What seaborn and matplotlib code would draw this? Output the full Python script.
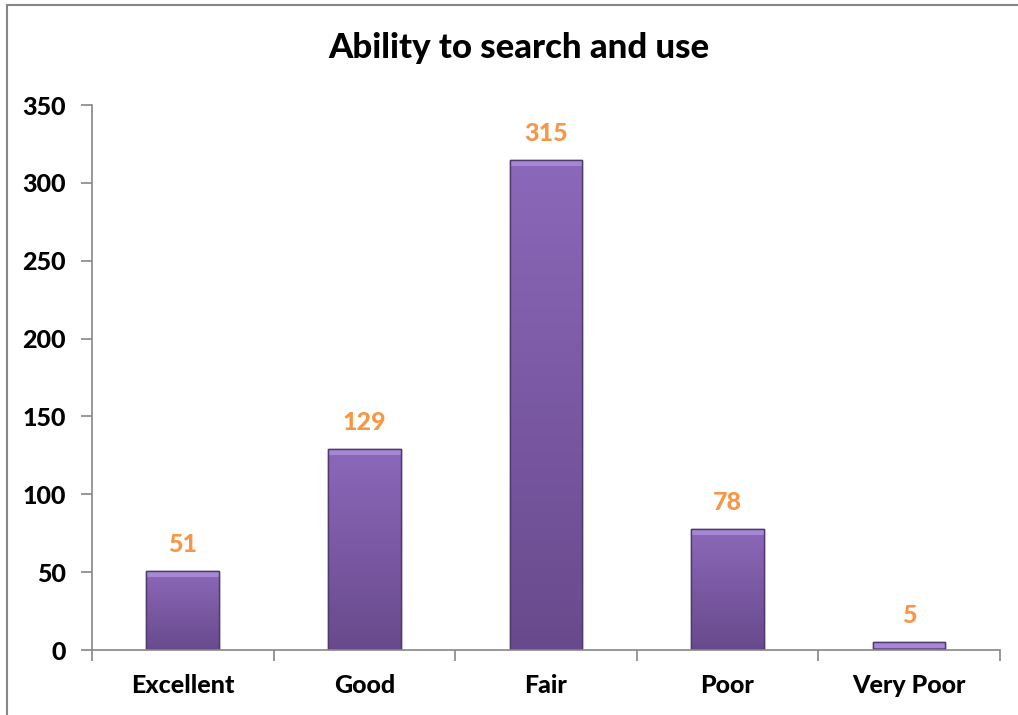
import matplotlib
matplotlib.use("Agg")
import matplotlib.pyplot as plt
from matplotlib.lines import Line2D
from matplotlib.patches import Rectangle
import numpy as np
import pandas as pd
import seaborn as sns

categories = ["Excellent", "Good", "Fair", "Poor", "Very Poor"]
counts = [51, 129, 315, 78, 5]
title = "Ability to search and use"
yticks = [0, 50, 100, 150, 200, 250, 300, 350]

sns.set_theme(style="white")
plt.rcParams["font.family"] = ["Lato", "DejaVu Sans"]
plt.rcParams["text.color"] = "black"

axis_grey = "#868686"
bar_purple = "#7B5BA8"
label_orange = "#F79646"
W = "black"

df = pd.DataFrame({"category": categories, "count": counts})

fig = plt.figure(figsize=(10.18, 7.15), dpi=100)
ax = fig.add_axes([0.0904, 0.0909, 0.8916, 0.7622])

sns.barplot(data=df, x="category", y="count", color=bar_purple,
            width=0.4, saturation=1, ax=ax, edgecolor="#4E3A6B", linewidth=1.0)

# vertical gradient + bevel highlight on each bar
grad = np.linspace(0, 1, 256).reshape(-1, 1)
top_c = np.array([0x8C, 0x68, 0xBA]) / 255
bot_c = np.array([0x68, 0x4A, 0x8C]) / 255
img = (top_c * (1 - grad) + bot_c * grad).reshape(256, 1, 3)
for p in list(ax.patches):
    x0, y0 = p.get_x(), p.get_y()
    w, h = p.get_width(), p.get_height()
    im = ax.imshow(img, extent=[x0, x0 + w, y0, y0 + h], aspect="auto",
                   zorder=p.get_zorder() + 0.1, interpolation="bilinear")
    im.set_clip_path(p)
    bevel = min(h, 350 * 0.011)
    ax.add_patch(Rectangle((x0, y0 + h - bevel), w, bevel, facecolor="#A587D3",
                           edgecolor="none", zorder=p.get_zorder() + 0.2))
    ax.add_patch(Rectangle((x0, y0), w, h, facecolor="none", edgecolor="#4E3A6B",
                           linewidth=1.0, zorder=p.get_zorder() + 0.3))

ax.set_xlim(-0.5, len(categories) - 0.5)
ax.set_ylim(0, 350)
ax.set_yticks(yticks)
ax.set_yticklabels([str(v) for v in yticks], fontsize=18, fontweight=W)
ax.set_xticks(range(len(categories)))
ax.set_xticklabels(categories, fontsize=18, fontweight=W)
ax.set_xticks(np.arange(-0.5, len(categories), 1.0), minor=True)
ax.tick_params(axis="x", which="major", length=0, pad=17, labelcolor="black")
ax.tick_params(axis="x", which="minor", length=8, width=1.2, color=axis_grey, direction="out", bottom=True)
ax.tick_params(axis="y", length=8, width=1.2, color=axis_grey, direction="out", left=True,
               pad=11, labelcolor="black")
ax.set_xlabel("")
ax.set_ylabel("")

for s in ["top", "right"]:
    ax.spines[s].set_visible(False)
for s in ["left", "bottom"]:
    ax.spines[s].set_color(axis_grey)
    ax.spines[s].set_linewidth(1.2)

for i, v in enumerate(counts):
    ax.text(i, v + 17, str(v), ha="center", va="center", fontsize=18,
            fontweight=W, color=label_orange)

fig.text(0.5095, 0.933, title, ha="center", va="center", fontsize=25,
         fontweight=W, color="black")

# chart frame (left and top edges)
fig.add_artist(Line2D([0.0069, 0.0069], [0, 0.993], transform=fig.transFigure,
                      color=axis_grey, linewidth=1.5))
fig.add_artist(Line2D([0.0069, 1.0], [0.993, 0.993], transform=fig.transFigure,
                      color=axis_grey, linewidth=1.5))

fig.savefig("out.png", dpi=100)
